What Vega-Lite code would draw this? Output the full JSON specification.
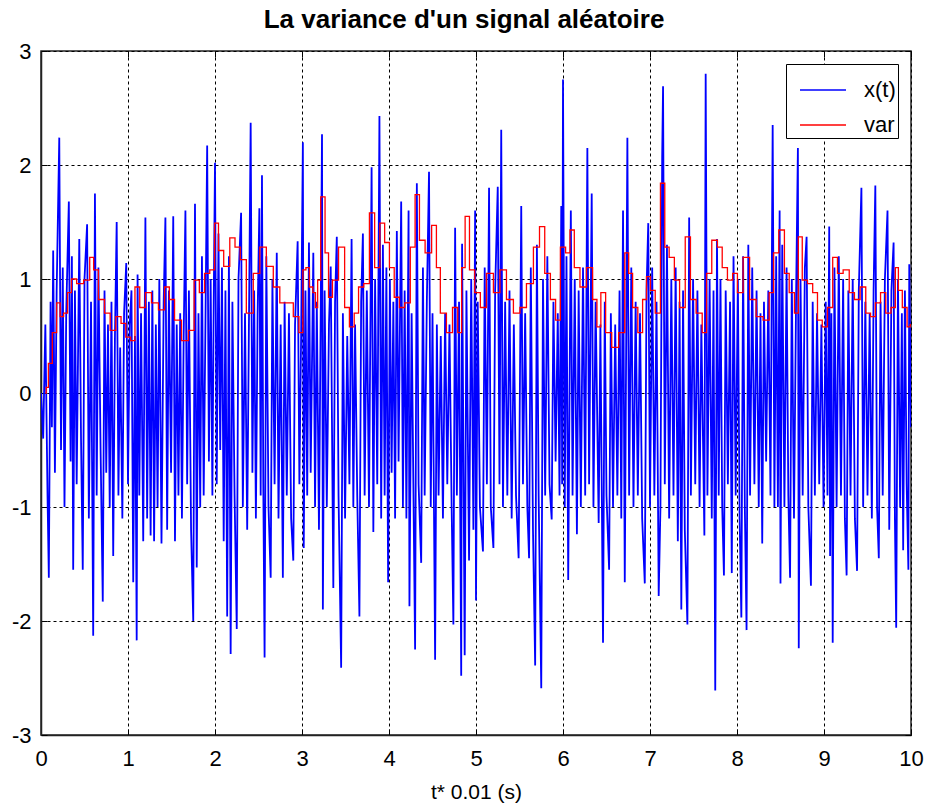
{
"$schema": "https://vega.github.io/schema/vega-lite/v6.json",
"autosize": {"type": "none"},
"padding": {"left": 41, "top": 51, "right": 15, "bottom": 74},
"width": 870,
"height": 684,
"background": "white",
"title": {"text": "La variance d'un signal aléatoire", "fontSize": 26, "fontWeight": "bold", "font": "Liberation Sans, sans-serif", "color": "black", "offset": 7, "anchor": "middle", "dx": -12},
"config": {
  "view": {"stroke": "#222222", "strokeWidth": 1.5},
  "axis": {"gridColor": "black", "gridDash": [3, 3], "gridOpacity": 1, "gridWidth": 1, "domainColor": "#222222", "domainWidth": 1.5, "tickColor": "black", "tickSize": -6, "labelFont": "Liberation Sans, sans-serif", "labelFontSize": 22, "labelColor": "black", "titleFont": "Liberation Sans, sans-serif", "titleFontSize": 21, "titleFontWeight": "normal", "titleColor": "black", "labelFlush": false, "labelOverlap": false}
},
"resolve": {"axis": {"x": "independent", "y": "independent"}},
"datasets": {
"sx": [
{"t":0,"x":0},{"t":0.025,"x":-0.4},{"t":0.05,"x":0.6},{"t":0.075,"x":-0.9},{"t":0.09,"x":-1.62},{"t":0.11,"x":0.8},{"t":0.125,"x":-0.3},{"t":0.14,"x":1.25},{"t":0.16,"x":-0.7},{"t":0.18,"x":0.9},
{"t":0.21,"x":2.24},{"t":0.23,"x":-0.5},{"t":0.25,"x":1.1},{"t":0.27,"x":-1.0},{"t":0.29,"x":0.7},{"t":0.32,"x":1.68},{"t":0.34,"x":-0.6},{"t":0.355,"x":1.2},{"t":0.37,"x":-1.55},{"t":0.39,"x":0.9},
{"t":0.41,"x":-0.8},{"t":0.44,"x":1.35},{"t":0.46,"x":-0.4},{"t":0.48,"x":-1.55},{"t":0.5,"x":1.0},{"t":0.53,"x":1.48},{"t":0.55,"x":-1.1},{"t":0.575,"x":0.8},{"t":0.6,"x":-2.13},{"t":0.62,"x":1.75},
{"t":0.64,"x":-0.9},{"t":0.66,"x":1.1},{"t":0.685,"x":-0.5},{"t":0.71,"x":-1.83},{"t":0.73,"x":0.9},{"t":0.75,"x":-0.7},{"t":0.77,"x":0.6},{"t":0.79,"x":-1.0},{"t":0.81,"x":0.8},{"t":0.83,"x":-1.43},
{"t":0.85,"x":0.5},{"t":0.87,"x":1.5},{"t":0.89,"x":-0.9},{"t":0.91,"x":0.4},{"t":0.935,"x":-1.1},{"t":0.955,"x":0.7},{"t":0.98,"x":1.14},{"t":1.0,"x":-0.8},{"t":1.02,"x":0.6},{"t":1.04,"x":0.9},
{"t":1.06,"x":-1.66},{"t":1.08,"x":0.5},{"t":1.1,"x":-2.17},{"t":1.11,"x":1.04},{"t":1.13,"x":-0.9},{"t":1.15,"x":0.7},{"t":1.175,"x":-1.3},{"t":1.2,"x":1.54},{"t":1.22,"x":-1.1},{"t":1.24,"x":0.8},
{"t":1.26,"x":-1.25},{"t":1.28,"x":0.9},{"t":1.3,"x":-1.3},{"t":1.32,"x":0.6},{"t":1.34,"x":-1.0},{"t":1.36,"x":1.0},{"t":1.385,"x":-1.32},{"t":1.41,"x":0.8},{"t":1.43,"x":1.54},{"t":1.45,"x":-1.2},
{"t":1.47,"x":0.9},{"t":1.495,"x":-0.7},{"t":1.52,"x":1.55},{"t":1.54,"x":-1.3},{"t":1.56,"x":0.6},{"t":1.58,"x":-0.9},{"t":1.6,"x":0.7},{"t":1.62,"x":-1.1},{"t":1.64,"x":0.5},{"t":1.66,"x":1.6},
{"t":1.68,"x":-0.8},{"t":1.7,"x":0.9},{"t":1.725,"x":-1.2},{"t":1.75,"x":-2.0},{"t":1.77,"x":1.66},{"t":1.79,"x":-1.53},{"t":1.81,"x":0.7},{"t":1.83,"x":-1.0},{"t":1.85,"x":1.2},{"t":1.87,"x":-0.9},
{"t":1.89,"x":0.6},{"t":1.91,"x":2.17},{"t":1.93,"x":-0.6},{"t":1.95,"x":1.0},{"t":1.97,"x":-0.9},{"t":1.985,"x":0.8},{"t":2.0,"x":2.02},{"t":2.02,"x":-0.8},{"t":2.04,"x":1.4},{"t":2.06,"x":-0.5},
{"t":2.08,"x":1.1},{"t":2.1,"x":-1.3},{"t":2.12,"x":0.9},{"t":2.14,"x":-1.96},{"t":2.16,"x":1.2},{"t":2.18,"x":-2.29},{"t":2.2,"x":0.8},{"t":2.225,"x":-0.9},{"t":2.25,"x":-2.07},{"t":2.27,"x":1.0},
{"t":2.3,"x":1.58},{"t":2.32,"x":-1.0},{"t":2.345,"x":0.7},{"t":2.37,"x":-1.2},{"t":2.39,"x":0.6},{"t":2.41,"x":2.37},{"t":2.43,"x":-0.7},{"t":2.45,"x":0.9},{"t":2.47,"x":-1.1},{"t":2.49,"x":0.7},
{"t":2.51,"x":1.62},{"t":2.525,"x":-0.9},{"t":2.54,"x":1.91},{"t":2.555,"x":-0.8},{"t":2.57,"x":-2.32},{"t":2.59,"x":1.2},{"t":2.615,"x":-1.0},{"t":2.64,"x":-1.62},{"t":2.66,"x":1.0},{"t":2.685,"x":-0.8},
{"t":2.71,"x":1.23},{"t":2.73,"x":-1.1},{"t":2.755,"x":0.6},{"t":2.78,"x":-1.62},{"t":2.8,"x":0.8},{"t":2.825,"x":-0.9},{"t":2.85,"x":0.7},{"t":2.875,"x":-1.1},{"t":2.9,"x":-1.47},{"t":2.92,"x":0.6},
{"t":2.95,"x":1.33},{"t":2.97,"x":-0.8},{"t":2.99,"x":0.5},{"t":3.01,"x":2.2},{"t":3.02,"x":-1.36},{"t":3.04,"x":0.9},{"t":3.06,"x":-0.9},{"t":3.08,"x":1.32},{"t":3.1,"x":-0.7},{"t":3.13,"x":1.23},
{"t":3.15,"x":-1.0},{"t":3.17,"x":0.8},{"t":3.195,"x":-1.2},{"t":3.215,"x":0.7},{"t":3.23,"x":2.27},{"t":3.24,"x":-1.9},{"t":3.26,"x":0.9},{"t":3.285,"x":-1.0},{"t":3.31,"x":0.6},{"t":3.33,"x":1.11},
{"t":3.36,"x":-1.71},{"t":3.38,"x":0.8},{"t":3.4,"x":1.37},{"t":3.42,"x":-0.9},{"t":3.45,"x":-2.41},{"t":3.47,"x":0.7},{"t":3.495,"x":-1.1},{"t":3.52,"x":0.5},{"t":3.545,"x":-0.8},{"t":3.57,"x":1.35},
{"t":3.59,"x":-1.0},{"t":3.61,"x":0.6},{"t":3.635,"x":-0.9},{"t":3.66,"x":-1.96},{"t":3.68,"x":0.8},{"t":3.7,"x":1.4},{"t":3.72,"x":-0.9},{"t":3.745,"x":0.9},{"t":3.77,"x":-1.0},{"t":3.8,"x":1.98},
{"t":3.82,"x":-1.22},{"t":3.84,"x":1.0},{"t":3.865,"x":-0.8},{"t":3.89,"x":2.43},{"t":3.91,"x":-1.1},{"t":3.93,"x":1.3},{"t":3.95,"x":-0.9},{"t":3.97,"x":1.1},{"t":3.99,"x":-1.66},{"t":4.01,"x":1.0},
{"t":4.03,"x":-0.7},{"t":4.05,"x":0.8},{"t":4.07,"x":-1.1},{"t":4.09,"x":1.42},{"t":4.11,"x":-0.6},{"t":4.14,"x":1.68},{"t":4.16,"x":-1.0},{"t":4.18,"x":0.9},{"t":4.2,"x":-1.1},{"t":4.225,"x":1.6},
{"t":4.235,"x":-1.87},{"t":4.26,"x":0.7},{"t":4.28,"x":-0.8},{"t":4.3,"x":-2.25},{"t":4.32,"x":1.84},{"t":4.34,"x":-0.8},{"t":4.37,"x":-1.49},{"t":4.39,"x":1.1},{"t":4.41,"x":-0.9},{"t":4.435,"x":0.8},
{"t":4.46,"x":1.94},{"t":4.48,"x":-1.0},{"t":4.5,"x":0.7},{"t":4.53,"x":-2.34},{"t":4.55,"x":0.6},{"t":4.57,"x":-0.9},{"t":4.595,"x":0.5},{"t":4.62,"x":-1.1},{"t":4.645,"x":0.7},{"t":4.67,"x":-0.8},
{"t":4.695,"x":0.6},{"t":4.72,"x":-1.0},{"t":4.74,"x":-2.03},{"t":4.76,"x":1.45},{"t":4.78,"x":-0.9},{"t":4.805,"x":0.8},{"t":4.83,"x":-2.48},{"t":4.84,"x":1.31},{"t":4.87,"x":-2.3},{"t":4.89,"x":0.9},
{"t":4.92,"x":-1.47},{"t":4.945,"x":1.0},{"t":4.97,"x":-1.2},{"t":4.99,"x":1.6},{"t":5.0,"x":-1.82},{"t":5.02,"x":0.8},{"t":5.045,"x":-1.0},{"t":5.08,"x":-1.39},{"t":5.1,"x":1.1},{"t":5.125,"x":-0.8},
{"t":5.15,"x":1.8},{"t":5.17,"x":-1.0},{"t":5.2,"x":-1.36},{"t":5.22,"x":0.9},{"t":5.25,"x":1.81},{"t":5.27,"x":-0.8},{"t":5.29,"x":2.31},{"t":5.31,"x":-1.0},{"t":5.335,"x":0.8},{"t":5.36,"x":-0.9},
{"t":5.385,"x":0.9},{"t":5.41,"x":-1.1},{"t":5.435,"x":0.6},{"t":5.46,"x":-0.9},{"t":5.49,"x":-1.45},{"t":5.52,"x":1.64},{"t":5.54,"x":-0.8},{"t":5.565,"x":0.7},{"t":5.59,"x":-1.0},{"t":5.61,"x":-1.45},
{"t":5.63,"x":1.1},{"t":5.655,"x":-1.2},{"t":5.68,"x":-2.39},{"t":5.7,"x":1.3},{"t":5.72,"x":-0.9},{"t":5.75,"x":-2.59},{"t":5.77,"x":1.0},{"t":5.795,"x":-0.9},{"t":5.82,"x":1.2},{"t":5.845,"x":-0.8},
{"t":5.87,"x":-1.11},{"t":5.89,"x":0.8},{"t":5.915,"x":-0.6},{"t":5.94,"x":0.7},{"t":5.96,"x":-0.9},{"t":5.98,"x":1.64},{"t":5.99,"x":-0.8},{"t":6.0,"x":2.75},{"t":6.02,"x":-1.0},{"t":6.04,"x":1.2},
{"t":6.06,"x":-1.64},{"t":6.09,"x":1.6},{"t":6.11,"x":-0.9},{"t":6.135,"x":1.0},{"t":6.16,"x":-1.24},{"t":6.18,"x":0.9},{"t":6.205,"x":-1.0},{"t":6.23,"x":1.1},{"t":6.255,"x":-0.9},{"t":6.28,"x":2.15},
{"t":6.3,"x":-0.8},{"t":6.33,"x":1.75},{"t":6.35,"x":-1.0},{"t":6.375,"x":0.8},{"t":6.41,"x":-1.14},{"t":6.43,"x":0.6},{"t":6.46,"x":-2.19},{"t":6.48,"x":0.8},{"t":6.5,"x":-0.9},{"t":6.53,"x":-1.55},
{"t":6.55,"x":0.7},{"t":6.575,"x":-1.0},{"t":6.6,"x":0.6},{"t":6.625,"x":-0.9},{"t":6.65,"x":0.9},{"t":6.67,"x":-1.1},{"t":6.69,"x":1.6},{"t":6.71,"x":-1.66},{"t":6.74,"x":2.24},{"t":6.76,"x":-0.9},
{"t":6.785,"x":1.1},{"t":6.81,"x":-1.0},{"t":6.835,"x":0.8},{"t":6.86,"x":-0.9},{"t":6.885,"x":0.7},{"t":6.91,"x":-1.1},{"t":6.94,"x":-1.67},{"t":6.96,"x":0.9},{"t":6.98,"x":1.49},{"t":7.0,"x":-1.0},
{"t":7.025,"x":1.1},{"t":7.05,"x":-0.9},{"t":7.075,"x":0.8},{"t":7.1,"x":-1.78},{"t":7.12,"x":-1.0},{"t":7.14,"x":2.07},{"t":7.15,"x":2.69},{"t":7.17,"x":-0.8},{"t":7.195,"x":1.3},{"t":7.22,"x":-1.1},
{"t":7.245,"x":1.0},{"t":7.27,"x":-0.9},{"t":7.295,"x":1.1},{"t":7.32,"x":-1.3},{"t":7.34,"x":0.8},{"t":7.36,"x":-1.9},{"t":7.38,"x":0.9},{"t":7.4,"x":-1.2},{"t":7.43,"x":-2.03},{"t":7.45,"x":1.54},
{"t":7.47,"x":-0.9},{"t":7.495,"x":1.0},{"t":7.52,"x":-0.8},{"t":7.545,"x":0.9},{"t":7.57,"x":-1.0},{"t":7.59,"x":0.6},{"t":7.625,"x":-1.25},{"t":7.64,"x":2.8},{"t":7.66,"x":-0.9},{"t":7.685,"x":1.0},
{"t":7.71,"x":-1.1},{"t":7.73,"x":0.9},{"t":7.75,"x":-2.61},{"t":7.77,"x":1.35},{"t":7.79,"x":-0.9},{"t":7.81,"x":1.0},{"t":7.83,"x":-1.0},{"t":7.85,"x":-1.6},{"t":7.87,"x":0.9},{"t":7.895,"x":-0.8},
{"t":7.92,"x":0.8},{"t":7.94,"x":-1.58},{"t":7.96,"x":1.2},{"t":7.985,"x":-0.9},{"t":8.01,"x":1.0},{"t":8.03,"x":-1.1},{"t":8.05,"x":-1.97},{"t":8.07,"x":1.2},{"t":8.09,"x":-1.0},{"t":8.11,"x":-2.08},
{"t":8.13,"x":1.3},{"t":8.15,"x":-0.9},{"t":8.175,"x":1.1},{"t":8.2,"x":-0.8},{"t":8.225,"x":0.9},{"t":8.25,"x":-1.0},{"t":8.27,"x":0.7},{"t":8.29,"x":-1.32},{"t":8.31,"x":0.8},{"t":8.335,"x":-0.6},
{"t":8.36,"x":0.9},{"t":8.385,"x":-0.9},{"t":8.41,"x":2.35},{"t":8.43,"x":-1.0},{"t":8.45,"x":1.2},{"t":8.47,"x":-1.0},{"t":8.49,"x":1.6},{"t":8.5,"x":-1.67},{"t":8.52,"x":1.3},{"t":8.545,"x":-1.0},
{"t":8.57,"x":1.1},{"t":8.59,"x":-0.9},{"t":8.61,"x":-1.62},{"t":8.63,"x":1.0},{"t":8.655,"x":-1.1},{"t":8.68,"x":0.9},{"t":8.7,"x":2.15},{"t":8.71,"x":-2.24},{"t":8.73,"x":1.0},{"t":8.755,"x":-0.9},
{"t":8.78,"x":1.1},{"t":8.8,"x":1.37},{"t":8.82,"x":-1.0},{"t":8.85,"x":-1.69},{"t":8.87,"x":0.8},{"t":8.895,"x":-0.9},{"t":8.92,"x":0.7},{"t":8.945,"x":-0.8},{"t":8.97,"x":0.6},{"t":8.995,"x":-1.0},
{"t":9.02,"x":0.8},{"t":9.04,"x":-0.9},{"t":9.06,"x":1.46},{"t":9.07,"x":-1.43},{"t":9.085,"x":0.7},{"t":9.1,"x":-2.19},{"t":9.12,"x":1.1},{"t":9.145,"x":-1.0},{"t":9.17,"x":1.2},{"t":9.195,"x":-0.9},
{"t":9.22,"x":1.0},{"t":9.24,"x":-1.1},{"t":9.26,"x":-1.6},{"t":9.28,"x":0.9},{"t":9.305,"x":-0.9},{"t":9.33,"x":1.0},{"t":9.355,"x":-1.1},{"t":9.38,"x":-1.56},{"t":9.4,"x":0.9},{"t":9.43,"x":1.8},
{"t":9.45,"x":-1.0},{"t":9.475,"x":0.8},{"t":9.5,"x":-0.9},{"t":9.525,"x":0.7},{"t":9.55,"x":-1.1},{"t":9.57,"x":0.9},{"t":9.59,"x":1.82},{"t":9.61,"x":-1.0},{"t":9.63,"x":-1.45},{"t":9.65,"x":0.8},
{"t":9.675,"x":-0.9},{"t":9.7,"x":1.0},{"t":9.73,"x":1.6},{"t":9.75,"x":-1.2},{"t":9.775,"x":0.9},{"t":9.8,"x":1.32},{"t":9.815,"x":-1.1},{"t":9.83,"x":-2.06},{"t":9.85,"x":1.0},{"t":9.875,"x":-1.0},
{"t":9.895,"x":0.7},{"t":9.91,"x":-1.38},{"t":9.93,"x":0.9},{"t":9.95,"x":-0.8},{"t":9.97,"x":-1.55},{"t":9.98,"x":1.13},{"t":10.0,"x":-0.3}
],
"sv": [
{"t":0.05,"v":0.0},{"t":0.07,"v":0.05},{"t":0.1,"v":0.26},{"t":0.16,"v":0.53},{"t":0.2,"v":0.79},{"t":0.24,"v":0.67},{"t":0.28,"v":0.7},{"t":0.33,"v":0.88},{"t":0.37,"v":1.0},{"t":0.45,"v":0.96},
{"t":0.53,"v":0.99},{"t":0.59,"v":1.19},{"t":0.62,"v":1.08},{"t":0.7,"v":0.82},{"t":0.76,"v":0.7},{"t":0.83,"v":0.55},{"t":0.89,"v":0.67},{"t":0.95,"v":0.61},{"t":1.0,"v":0.49},{"t":1.06,"v":0.46},
{"t":1.1,"v":0.93},{"t":1.17,"v":0.75},{"t":1.23,"v":0.88},{"t":1.31,"v":0.79},{"t":1.39,"v":0.73},{"t":1.45,"v":0.93},{"t":1.5,"v":0.82},{"t":1.57,"v":0.64},{"t":1.66,"v":0.46},{"t":1.73,"v":0.55},
{"t":1.79,"v":0.99},{"t":1.85,"v":0.88},{"t":1.91,"v":1.05},{"t":1.97,"v":1.08},{"t":2.02,"v":1.49},{"t":2.06,"v":1.25},{"t":2.14,"v":1.11},{"t":2.2,"v":1.36},{"t":2.26,"v":1.28},{"t":2.32,"v":1.17},
{"t":2.4,"v":0.7},{"t":2.48,"v":1.05},{"t":2.55,"v":1.28},{"t":2.63,"v":1.11},{"t":2.71,"v":0.93},{"t":2.78,"v":0.79},{"t":2.86,"v":0.79},{"t":2.94,"v":0.67},{"t":2.99,"v":0.53},{"t":3.03,"v":1.08},
{"t":3.06,"v":1.1},{"t":3.11,"v":0.93},{"t":3.14,"v":0.88},{"t":3.17,"v":0.75},{"t":3.19,"v":0.99},{"t":3.24,"v":1.72},{"t":3.29,"v":1.23},{"t":3.32,"v":0.84},{"t":3.38,"v":0.99},{"t":3.46,"v":1.28},
{"t":3.52,"v":0.75},{"t":3.57,"v":0.58},{"t":3.63,"v":0.7},{"t":3.67,"v":0.93},{"t":3.75,"v":0.96},{"t":3.8,"v":1.58},{"t":3.87,"v":1.1},{"t":3.92,"v":1.49},{"t":3.98,"v":1.32},{"t":4.03,"v":1.1},
{"t":4.09,"v":0.84},{"t":4.15,"v":0.75},{"t":4.21,"v":0.79},{"t":4.28,"v":1.28},{"t":4.32,"v":1.74},{"t":4.38,"v":1.34},{"t":4.45,"v":1.23},{"t":4.53,"v":1.47},{"t":4.56,"v":1.1},{"t":4.62,"v":0.7},
{"t":4.7,"v":0.53},{"t":4.76,"v":0.75},{"t":4.82,"v":0.53},{"t":4.85,"v":1.1},{"t":4.9,"v":1.55},{"t":4.95,"v":1.08},{"t":5.02,"v":0.88},{"t":5.08,"v":0.75},{"t":5.16,"v":1.05},{"t":5.24,"v":0.88},
{"t":5.31,"v":1.08},{"t":5.39,"v":0.82},{"t":5.47,"v":0.7},{"t":5.54,"v":0.75},{"t":5.62,"v":0.96},{"t":5.7,"v":1.28},{"t":5.76,"v":1.46},{"t":5.82,"v":1.05},{"t":5.89,"v":0.82},{"t":5.94,"v":0.64},
{"t":6.0,"v":1.28},{"t":6.06,"v":1.23},{"t":6.1,"v":1.43},{"t":6.16,"v":1.1},{"t":6.23,"v":0.93},{"t":6.31,"v":1.1},{"t":6.37,"v":0.82},{"t":6.41,"v":0.58},{"t":6.46,"v":0.88},{"t":6.52,"v":0.53},
{"t":6.6,"v":0.4},{"t":6.68,"v":0.53},{"t":6.74,"v":1.23},{"t":6.77,"v":1.05},{"t":6.83,"v":0.75},{"t":6.89,"v":0.53},{"t":6.94,"v":0.82},{"t":6.98,"v":1.02},{"t":7.03,"v":0.9},{"t":7.09,"v":0.7},
{"t":7.15,"v":1.84},{"t":7.19,"v":1.28},{"t":7.25,"v":1.19},{"t":7.31,"v":0.99},{"t":7.37,"v":0.75},{"t":7.44,"v":1.37},{"t":7.49,"v":0.82},{"t":7.57,"v":0.7},{"t":7.63,"v":0.53},{"t":7.67,"v":1.05},
{"t":7.75,"v":1.34},{"t":7.8,"v":1.28},{"t":7.86,"v":1.1},{"t":7.92,"v":0.99},{"t":7.98,"v":1.05},{"t":8.03,"v":0.88},{"t":8.11,"v":1.19},{"t":8.18,"v":0.82},{"t":8.26,"v":0.67},{"t":8.34,"v":0.64},
{"t":8.4,"v":0.88},{"t":8.44,"v":1.23},{"t":8.52,"v":1.43},{"t":8.57,"v":1.05},{"t":8.63,"v":0.88},{"t":8.69,"v":0.7},{"t":8.72,"v":1.37},{"t":8.78,"v":0.99},{"t":8.84,"v":0.96},{"t":8.9,"v":0.88},
{"t":8.95,"v":0.64},{"t":9.01,"v":0.58},{"t":9.07,"v":0.75},{"t":9.13,"v":1.19},{"t":9.18,"v":1.05},{"t":9.26,"v":1.08},{"t":9.32,"v":0.88},{"t":9.38,"v":0.82},{"t":9.45,"v":0.93},{"t":9.51,"v":0.7},
{"t":9.56,"v":0.67},{"t":9.62,"v":0.79},{"t":9.68,"v":0.88},{"t":9.74,"v":0.7},{"t":9.8,"v":0.75},{"t":9.84,"v":1.1},{"t":9.87,"v":0.9},{"t":9.93,"v":0.75},{"t":9.98,"v":0.58},{"t":10.0,"v":0.6}
]
},
"layer": [
{
"data": {"name": "sx"},
"mark": {"type": "line", "strokeWidth": 1.8, "clip": true},
"encoding": {
"x": {"field": "t", "type": "quantitative", "scale": {"domain": [0, 10], "nice": false}, "axis": {"values": [0,1,2,3,4,5,6,7,8,9,10], "grid": true, "title": "t* 0.01 (s)", "labelPadding": 19, "titlePadding": 12, "labelExpr": "'' + datum.value"}},
"y": {"field": "x", "type": "quantitative", "scale": {"domain": [-3, 3], "nice": false}, "axis": {"values": [-3,-2,-1,0,1,2,3], "grid": true, "title": null, "labelPadding": 16, "labelExpr": "'' + datum.value"}},
"color": {"datum": "x(t)", "type": "nominal", "scale": {"domain": ["x(t)", "var"], "range": ["#0000ff", "#ff0000"]},
"legend": {"title": null, "orient": "top-right", "offset": 13, "fillColor": "white", "strokeColor": "black", "padding": 2, "symbolType": "M-1,0H1", "symbolSize": 2116, "symbolStrokeWidth": 1.3, "symbolOffset": 11, "labelFontSize": 22, "labelFont": "Liberation Sans, sans-serif", "labelColor": "black", "labelOffset": 17, "rowPadding": 0, "cornerRadius": 0}}
}
},
{
"data": {"name": "sv"},
"mark": {"type": "line", "strokeWidth": 1.3, "interpolate": "step", "clip": true},
"encoding": {
"x": {"field": "t", "type": "quantitative", "axis": {"orient": "top", "values": [0,1,2,3,4,5,6,7,8,9,10], "labels": false, "grid": false, "domain": false, "title": null}},
"y": {"field": "v", "type": "quantitative", "axis": {"orient": "right", "values": [-3,-2,-1,0,1,2,3], "labels": false, "grid": false, "domain": false, "title": null}},
"color": {"datum": "var", "type": "nominal"}
}
}
]
}
